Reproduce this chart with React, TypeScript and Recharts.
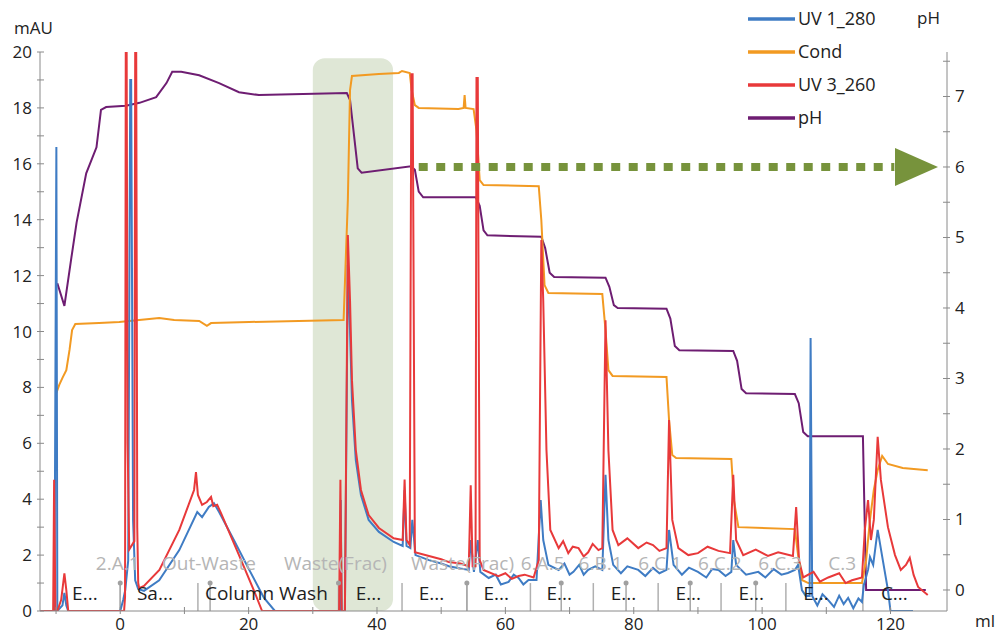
import React from 'react';
import {
  LineChart,
  Line,
  XAxis,
  YAxis,
  ReferenceArea,
  ReferenceLine,
  ReferenceDot,
  Legend,
} from 'recharts';

type P = { ml: number; v: number };
const mk = (pairs: number[][]): P[] => pairs.map(([ml, v]) => ({ ml, v }));

const FONT = '"Open Sans", "Noto Sans", sans-serif';

// axis ticks
const xTicks = [-10, 0, 10, 20, 30, 40, 50, 60, 70, 80, 90, 100, 110, 120];
const xLabelTicks = [0, 20, 40, 60, 80, 100, 120];
const mauTicks = [0, 1, 2, 3, 4, 5, 6, 7, 8, 9, 10, 11, 12, 13, 14, 15, 16, 17, 18, 19, 20];
const phTicks = [0, 0.5, 1, 1.5, 2, 2.5, 3, 3.5, 4, 4.5, 5, 5.5, 6, 6.5, 7, 7.5];

// series (ml, value)
const uv280 = mk([
  [-12.5, 0], [-10.25, 0], [-9.95, 16.6], [-9.8, 0], [-9.0, 0.2], [-8.7, 0.65], [-8.4, 0.2], [-8.1, 0],
  [0, 0], [0.47, 0.4], [0.78, 0.75], [1.24, 1.8], [1.56, 19.0], [1.7, 19.0], [2.0, 3.25], [2.33, 1.1],
  [2.8, 0.79], [3.7, 0.72], [6.07, 1.1], [9.2, 2.18], [12.0, 3.54], [12.75, 3.36], [13.8, 3.72],
  [14.6, 3.86], [15.4, 3.54], [17.7, 2.54], [20.1, 1.47], [22.4, 0.47], [24.1, 0], [34.2, 0],
  [34.35, 3.97], [34.5, 0], [35.0, 0], [35.46, 12.38], [35.8, 10.05], [36.1, 7.55], [36.7, 5.4],
  [37.5, 4.15], [38.7, 3.26], [40.3, 2.83], [42.6, 2.47], [44.0, 2.33], [44.3, 4.33], [44.6, 2.33],
  [45.2, 2.25], [45.5, 3.26], [46.0, 2.0], [48.1, 1.82], [50, 1.7], [51.2, 1.6], [53, 1.52], [54.3, 1.47],
  [54.6, 2.54], [55.1, 1.4], [55.7, 2.54], [56.1, 1.4], [57.4, 1.18], [58.5, 1.3], [59.3, 0.95],
  [60.5, 1.04], [61.3, 1.3], [62.05, 1.18], [62.8, 0.95], [63.6, 1.11], [64.85, 1.11], [65.5, 3.97],
  [65.9, 2.54], [66.7, 1.65], [68.3, 1.47], [69.2, 1.7], [70.0, 1.3], [70.6, 1.4], [71.5, 1.65],
  [72.2, 1.3], [72.9, 1.47], [74.0, 1.6], [75.1, 1.47], [75.6, 4.87], [76.05, 2.54], [76.8, 1.65],
  [78.0, 1.35], [79.0, 1.6], [80.7, 1.47], [81.8, 1.25], [83.0, 1.54], [84.0, 1.35], [85.1, 1.47],
  [85.5, 2.9], [86.2, 1.65], [87.5, 1.3], [88.6, 1.55], [90.0, 1.4], [91.3, 1.2], [92.2, 1.5],
  [93.2, 1.47], [94.3, 1.25], [95.2, 1.4], [95.5, 2.54], [95.95, 1.65], [97.5, 1.3], [99.4, 1.4],
  [100.5, 1.2], [101.8, 1.5], [103.0, 1.3], [104.0, 1.36], [105.1, 1.47], [105.6, 1.65], [106.2, 0.75],
  [106.8, 0.54], [107.4, 0.54], [107.55, 9.77], [107.8, 0.54], [108.6, 0.2], [109.4, 0.6],
  [110.3, 0.39], [111.2, 0.15], [112.0, 0.55], [112.7, 0.25], [113.4, 0.47], [114.2, 0.1],
  [115.0, 0.45], [115.55, 0.32], [115.85, 0.93], [116.5, 1.47], [116.8, 1.93], [117.3, 1.65],
  [118.0, 2.9], [118.8, 1.82], [119.6, 0.75], [120.0, 0], [123.5, 0],
]);

const cond = mk([
  [-9.95, 7.8], [-9.5, 8.09], [-9.0, 8.34], [-8.4, 8.62], [-7.9, 9.34], [-7.5, 10.05], [-7.0, 10.27],
  [-3.3, 10.3], [-0.15, 10.34], [2.95, 10.41], [6.07, 10.48], [8.4, 10.41], [12.3, 10.38],
  [13.5, 10.2], [14.15, 10.3], [20.1, 10.34], [27.8, 10.38], [34.8, 10.41], [35.46, 14.7],
  [35.8, 18.64], [36.1, 19.14], [40.3, 19.21], [43.4, 19.25], [43.9, 19.32], [45.1, 19.25],
  [45.4, 18.64], [45.9, 18.1], [46.5, 18.0], [52.7, 17.96], [53.5, 18.0], [53.65, 18.46],
  [53.8, 18.0], [55.05, 17.96], [55.5, 17.2], [56.0, 15.42], [56.6, 15.24], [65.2, 15.2],
  [65.6, 13.99], [66.1, 11.66], [66.7, 11.38], [75.1, 11.34], [75.6, 10.05], [76.05, 8.62],
  [76.7, 8.41], [85.1, 8.37], [85.5, 6.83], [86.0, 5.58], [86.6, 5.47], [95.2, 5.44], [95.6, 3.97],
  [96.3, 3.0], [105.1, 2.93], [105.6, 2.0], [106.2, 1.11], [107.2, 1.0], [115.55, 1.0],
  [116.2, 1.82], [116.8, 3.26], [117.4, 4.33], [118.0, 5.04], [118.7, 5.55], [119.6, 5.26],
  [121.9, 5.12], [125.8, 5.04],
]);

const uv260 = mk([
  [-12.5, 0], [-10.45, 0], [-10.3, 4.7], [-10.1, 0], [-9.8, 0], [-9.2, 0.4], [-8.7, 1.35], [-8.4, 0.75],
  [-8.1, 0], [0.6, 0], [0.75, 0.5], [0.86, 20], [1.0, 20], [1.15, 6], [1.4, 2.2], [2.2, 2.5],
  [2.33, 20], [2.49, 20], [2.65, 3], [2.8, 1.0], [2.95, 0.82], [3.7, 0.9], [6.1, 1.47], [9.2, 2.9],
  [11.5, 4.33], [11.8, 4.97], [12.1, 4.15], [12.75, 3.8], [13.5, 3.9], [14.15, 4.08], [14.5, 3.75],
  [15.1, 3.8], [15.7, 3.5], [18.5, 2.0], [20.8, 0.75], [22.1, 0], [34.1, 0], [34.3, 4.7], [34.5, 0],
  [35.0, 0], [35.46, 13.45], [35.8, 11.1], [36.1, 8.26], [36.7, 5.76], [37.5, 4.33], [38.7, 3.43],
  [40.3, 2.97], [42.6, 2.6], [44.0, 2.54], [44.3, 4.7], [44.6, 2.54], [45.1, 2.36], [45.35, 19.2],
  [45.55, 19.2], [45.9, 2.1], [48.1, 1.97], [50, 1.85], [51.2, 1.75], [53, 1.7], [54.3, 1.6],
  [54.6, 4.5], [54.9, 1.6], [55.35, 1.6], [55.5, 19.07], [55.7, 19.07], [56.0, 1.82], [56.6, 1.47],
  [58.9, 1.25], [60, 1.35], [61, 1.15], [62.05, 1.25], [63, 1.3], [64.4, 1.2], [65.2, 1.82],
  [65.6, 13.27], [65.9, 11.1], [66.4, 5.76], [67.0, 2.9], [68.3, 2.25], [69, 2.5], [69.8, 2.07],
  [70.5, 2.3], [71.4, 2.25], [72.2, 1.95], [72.9, 2.1], [73.6, 2.4], [74.5, 2.18], [75.1, 2.25],
  [75.6, 10.4], [76.05, 5.76], [76.7, 2.9], [77.6, 2.36], [79, 2.6], [80.7, 2.25], [82, 2.45],
  [83.0, 2.36], [84, 2.15], [85.1, 2.25], [85.5, 6.83], [86.0, 3.26], [86.95, 2.25], [88.5, 2.0],
  [90.0, 2.07], [91.5, 2.3], [93.2, 2.15], [95.0, 2.07], [95.5, 4.87], [95.95, 2.54], [97.05, 2.0],
  [99, 2.2], [100.9, 1.97], [102.5, 2.1], [104.8, 1.97], [105.3, 3.72], [105.75, 1.82], [106.4, 1.2],
  [108, 1.4], [109, 1.05], [110.3, 1.2], [112, 1.35], [113, 1.0], [114, 1.1], [115.55, 1.2],
  [116.0, 2.9], [116.5, 3.97], [116.95, 2.54], [117.4, 3.26], [118.0, 6.23], [118.5, 4.69],
  [119.6, 3.0], [120.7, 2.0], [121.6, 1.47], [122.4, 1.65], [123.0, 1.9], [123.6, 1.29],
  [124.3, 0.86], [125.8, 0.57],
]);

const ph = mk([
  [-9.8, 4.35], [-8.7, 4.03], [-7.6, 4.72], [-6.8, 5.21], [-5.3, 5.91], [-3.7, 6.28], [-3.0, 6.81],
  [-2.2, 6.85], [0.9, 6.87], [3.0, 6.91], [5.6, 6.99], [7.2, 7.19], [8.1, 7.35], [9.5, 7.35],
  [12.3, 7.3], [15.4, 7.19], [18.5, 7.06], [21.6, 7.02], [35.3, 7.05], [35.8, 6.95], [37.0, 5.98],
  [37.6, 5.92], [45.3, 6.01], [45.9, 5.96], [46.5, 5.65], [47.2, 5.57], [55.4, 5.57], [56.0, 5.45],
  [56.6, 5.1], [57.2, 5.03], [65.6, 5.01], [66.2, 4.85], [66.9, 4.5], [67.6, 4.44], [75.6, 4.43],
  [76.2, 4.3], [76.9, 4.04], [77.5, 4.0], [85.1, 3.99], [85.7, 3.85], [86.4, 3.46], [87.1, 3.4],
  [95.5, 3.39], [96.1, 3.25], [96.8, 2.85], [97.5, 2.79], [105.1, 2.78], [105.7, 2.65],
  [106.4, 2.24], [107.1, 2.18], [115.7, 2.18], [116.2, 0], [125.5, 0],
]);

// run annotations
const phaseBoundaries = [0, 12.1, 34.1, 43.9, 54.0, 63.9, 73.7, 83.8, 93.6, 103.7, 115.7];
const phaseLabelMl = [-7.5, 2.6, 13.2, 36.7, 46.5, 56.6, 66.4, 76.4, 86.5, 96.3, 106.4, 118.5];
const phaseLabelText = ['E...', 'Sa...', 'Column Wash', 'E...', 'E...', 'E...', 'E...', 'E...', 'E...', 'E...', 'E...', 'C...'];
const fractionMarks = [0, 14.0, 34.0, 54.0, 68.7, 78.8, 88.8, 99.0];
const fracLabelMl = [-3.8, 6.5, 25.5, 45.3, 62.4, 71.4, 80.7, 90.0, 99.4, 110.3];
const fracLabelText = ['2.A.1', 'Out-Waste', 'Waste(Frac)', 'Waste(Frac)', '6.A.5', '6.B.1', '6.C.1', '6.C.2', '6.C.3', 'C.3'];

const legendItems = [
  { name: 'UV 1_280', color: '#3f7cc4' },
  { name: 'Cond', color: '#f29a22' },
  { name: 'UV 3_260', color: '#e8393a' },
  { name: 'pH', color: '#6e1d72' },
];

const AXIS = '#8a8a8a';

const LeftTick = (props: any) => {
  const { x, y, payload } = props;
  const ax = x + 8;
  const major = payload.value % 2 === 0;
  return (
    <g>
      <line x1={ax - 3} x2={ax + 4} y1={y} y2={y} stroke={AXIS} strokeWidth={1} />
      {major && (
        <text x={x} y={y} dy={6} textAnchor="end" fontSize={17} fontFamily={FONT} fill="#222">
          {payload.value}
        </text>
      )}
    </g>
  );
};

const RightTick = (props: any) => {
  const { x, y, payload } = props;
  const ax = x - 8;
  const major = Number.isInteger(payload.value);
  return (
    <g>
      <line x1={ax - 4} x2={ax + 3} y1={y} y2={y} stroke={AXIS} strokeWidth={1} />
      {major && (
        <text x={x} y={y} dy={6} textAnchor="start" fontSize={17} fontFamily={FONT} fill="#222">
          {payload.value}
        </text>
      )}
    </g>
  );
};

const BottomTick = (props: any) => {
  const { x, y, payload } = props;
  const ay = y - 8;
  const major = xLabelTicks.includes(payload.value);
  return (
    <g>
      <line x1={x} x2={x} y1={ay - 4} y2={ay + 3} stroke={AXIS} strokeWidth={1} />
      {major && (
        <text x={x} y={ay + 19} textAnchor="middle" fontSize={17} fontFamily={FONT} fill="#222">
          {payload.value}
        </text>
      )}
    </g>
  );
};

const renderLegend = () => (
  <div style={{ fontFamily: FONT, fontSize: 18, color: '#222' }}>
    {legendItems.map((it) => (
      <div key={it.name} style={{ display: 'flex', alignItems: 'center', height: 33 }}>
        <svg width={50} height={6} style={{ display: 'block' }}>
          <line x1={0} x2={47} y1={3} y2={3} stroke={it.color} strokeWidth={3.5} />
        </svg>
        <span style={{ lineHeight: '33px' }}>{it.name}</span>
      </div>
    ))}
  </div>
);

const textShape = (label: string, color: string, size: number) => (p: any) => (
  <text x={p.cx} y={p.cy} fontSize={size} fontFamily={FONT} fill={color} textAnchor="start">
    {label}
  </text>
);

const triangleShape = (p: any) => (
  <polygon
    points={`${p.cx},${p.cy - 19} ${p.cx + 43},${p.cy} ${p.cx},${p.cy + 19}`}
    fill="#77933c"
  />
);

export default function App() {
  return (
    <div style={{ position: 'absolute', left: 0, top: 0, width: 996, height: 635, background: '#fff' }}>
      <LineChart width={996} height={635} margin={{ top: 52, right: 0, bottom: 0, left: 0 }}>
        <XAxis
          dataKey="ml"
          type="number"
          domain={[-12.5, 128.8]}
          ticks={xTicks}
          interval={0}
          allowDataOverflow
          height={24}
          tickLine={false}
          axisLine={{ stroke: AXIS }}
          tick={BottomTick}
        />
        <YAxis
          yAxisId="mau"
          orientation="left"
          width={40}
          domain={[0, 20]}
          ticks={mauTicks}
          interval={0}
          allowDataOverflow
          tickLine={false}
          axisLine={{ stroke: AXIS }}
          tick={LeftTick}
        />
        <YAxis
          yAxisId="ph"
          orientation="right"
          width={49}
          domain={[-0.298, 7.631]}
          ticks={phTicks}
          interval={0}
          allowDataOverflow
          tickLine={false}
          axisLine={{ stroke: AXIS }}
          tick={RightTick}
        />
        <ReferenceArea
          yAxisId="mau"
          x1={30.0}
          x2={42.5}
          y1={0}
          y2={19.78}
          fill="#dfe7d6"
          fillOpacity={1}
          stroke="none"
          radius={12}
        />
        {phaseBoundaries.map((b, i) => (
          <ReferenceLine
            key={'pb' + i}
            yAxisId="mau"
            segment={[{ x: b, y: 0 }, { x: b, y: 1.0 }]}
            stroke="#b0b0b0"
            strokeWidth={1.5}
          />
        ))}
        {fractionMarks.map((f, i) => (
          <ReferenceLine
            key={'fm' + i}
            yAxisId="mau"
            segment={[{ x: f, y: 0 }, { x: f, y: 1.0 }]}
            stroke="#a8a8a8"
            strokeWidth={1.5}
          />
        ))}
        {fractionMarks.map((f, i) => (
          <ReferenceDot key={'fd' + i} yAxisId="mau" x={f} y={1.0} r={2.5} fill="#a0a0a0" stroke="none" />
        ))}
        {fracLabelMl.map((m, i) => (
          <ReferenceDot
            key={'fl' + i}
            yAxisId="mau"
            x={m}
            y={1.47}
            r={0}
            shape={textShape(fracLabelText[i], '#b5b5b5', 19)}
          />
        ))}
        {phaseLabelMl.map((m, i) => (
          <ReferenceDot
            key={'pl' + i}
            yAxisId="mau"
            x={m}
            y={0.39}
            r={0}
            shape={textShape(phaseLabelText[i], '#1e1e1e', 19)}
          />
        ))}
        <Line yAxisId="ph" data={ph} dataKey="v" name="pH" stroke="#6e1d72" strokeWidth={2} dot={false} isAnimationActive={false} />
        <Line yAxisId="mau" data={cond} dataKey="v" name="Cond" stroke="#f29a22" strokeWidth={2} dot={false} isAnimationActive={false} />
        <Line yAxisId="mau" data={uv280} dataKey="v" name="UV 1_280" stroke="#3f7cc4" strokeWidth={2} dot={false} isAnimationActive={false} />
        <Line yAxisId="mau" data={uv260} dataKey="v" name="UV 3_260" stroke="#e8393a" strokeWidth={2} dot={false} isAnimationActive={false} />
        <ReferenceLine
          yAxisId="ph"
          segment={[{ x: 46.5, y: 6 }, { x: 120.6, y: 6 }]}
          stroke="#77933c"
          strokeWidth={8}
          strokeDasharray="9 8.5"
        />
        <ReferenceDot yAxisId="ph" x={120.7} y={6} r={0} shape={triangleShape} />
        <Legend
          layout="vertical"
          align="center"
          verticalAlign="middle"
          wrapperStyle={{ left: 748, top: 2, width: 160 }}
          content={renderLegend}
        />
      </LineChart>
      <div style={{ position: 'absolute', left: 14, top: 16, fontFamily: FONT, fontSize: 17, color: '#222' }}>mAU</div>
      <div style={{ position: 'absolute', left: 917, top: 6, fontFamily: FONT, fontSize: 17, color: '#222' }}>pH</div>
      <div style={{ position: 'absolute', left: 975, top: 609, fontFamily: FONT, fontSize: 17, color: '#222' }}>ml</div>
    </div>
  );
}
